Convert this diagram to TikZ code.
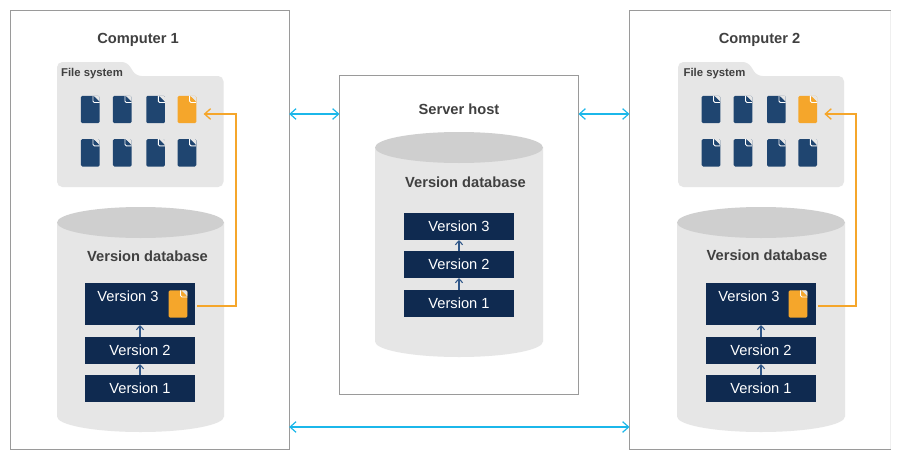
\documentclass[tikz,border=0pt]{standalone}
\usepackage{fontspec}
\setmainfont{Liberation Sans}
\usepackage{xcolor}
\usetikzlibrary{arrows.meta, positioning, calc}
\definecolor{hostline}{HTML}{9A9A9A}
\definecolor{fadeline}{HTML}{EFEFEF}
\definecolor{panelgrey}{HTML}{E6E6E6}
\definecolor{lidgrey}{HTML}{CFCFCF}
\definecolor{labelgrey}{HTML}{404040}
\definecolor{versionnavy}{HTML}{0F2A50}
\definecolor{stepblue}{HTML}{2F5688}
\definecolor{fileblue}{HTML}{1F4570}
\definecolor{fileorange}{HTML}{F5A62B}
\definecolor{linkcyan}{HTML}{1BB7EA}

\begin{document}
\begin{tikzpicture}[x=0.75pt, y=-0.75pt,
  hostbox/.style={draw=hostline, fill=white, line width=0.8pt, inner sep=0pt, outer sep=0pt},
  hostopen/.style={fill=white, inner sep=0pt, outer sep=0pt},
  hostedge/.style={draw=hostline, line width=0.8pt},
  hosttitle/.style={text=labelgrey, font=\bfseries\fontsize{11}{13}\selectfont, inner sep=0pt},
  fstitle/.style={text=labelgrey, font=\bfseries\fontsize{8.5}{10}\selectfont, inner sep=0pt},
  folder/.style={fill=panelgrey, rounded corners=4pt},
  version/.style={fill=versionnavy, text=white, minimum width=82.5pt, minimum height=20.25pt,
    inner sep=0pt, outer sep=0pt, font=\fontsize{11}{13}\selectfont},
  versiontall/.style={version, minimum height=31.5pt},
  versiontext/.style={text=white, inner sep=0pt, font=\fontsize{11}{13}\selectfont},
  fileicon/.style={fill=#1, minimum width=14pt, minimum height=20.5pt, inner sep=0pt, outer sep=0pt,
    rounded corners=1pt, path picture={
      \fill[panelgrey] ($(path picture bounding box.north east)+(-5pt,0.5pt)$) --
        ($(path picture bounding box.north east)+(0.5pt,0.5pt)$) --
        ($(path picture bounding box.north east)+(0.5pt,-5pt)$) -- cycle;
      \draw[white, line width=0.7pt] ($(path picture bounding box.north east)+(-5pt,0pt)$) --
        ($(path picture bounding box.north east)+(-5pt,-5pt)$) --
        ($(path picture bounding box.north east)+(0pt,-5pt)$);
      \fill[#1] ($(path picture bounding box.north east)+(-4.4pt,-0.2pt)$) --
        ($(path picture bounding box.north east)+(-0.2pt,-4.4pt)$) --
        ($(path picture bounding box.north east)+(-4.4pt,-4.4pt)$) -- cycle;}},
  link/.style={{Straight Barb[length=4.5pt,width=8pt]}-{Straight Barb[length=4.5pt,width=8pt]}, line width=0.9pt, draw=linkcyan},
  restore/.style={-{Straight Barb[length=4.5pt,width=8pt]}, line width=1pt, draw=fileorange},
  stepup/.style={-{Straight Barb[length=3pt,width=5.5pt]}, line width=0.8pt, draw=stepblue}]
  \useasboundingbox (0,0) rectangle (903,457);
  \node[hostbox, anchor=north west, minimum width=209pt, minimum height=329pt] (comp1) at (10.5,10.5) {};
  \node[hostbox, anchor=north west, minimum width=179.25pt, minimum height=239pt] (server) at (339.5,75.5) {};
  \node[hostopen, anchor=north west, minimum width=195.75pt, minimum height=329pt] (comp2) at (629.5,10.5) {};
  \draw[hostedge] (comp2.north east) -- (comp2.north west) -- (comp2.south west) -- (comp2.south east);
  \draw[fadeline] (comp2.north east) -- (comp2.south east);
  \node[hosttitle] (comp1title) at (138,39.5) {Computer 1};
  \node[hosttitle] (servertitle) at (459,109.5) {Server host};
  \node[hosttitle] (comp2title) at (759.5,39.5) {Computer 2};

  % computer 1 files
  \fill[folder] (57,62) -- (127,62) -- (136,76) -- (223.5,76) -- (223.5,187) -- (57,187) -- cycle;
  \node[fstitle] (fs1) at (92,73.5) {File system};
  \node[fileicon=fileblue] (a1) at (90.3,109.5) {};
  \node[fileicon=fileblue, right=10pt of a1] (a2) {};
  \node[fileicon=fileblue, right=11pt of a2] (a3) {};
  \node[fileicon=fileorange, right=9.5pt of a3] (a4) {};
  \node[fileicon=fileblue, below=12pt of a1] (a5) {};
  \node[fileicon=fileblue, right=10pt of a5] (a6) {};
  \node[fileicon=fileblue, right=11pt of a6] (a7) {};
  \node[fileicon=fileblue, right=9.5pt of a7] (a8) {};

  % computer 1 versions
  \fill[panelgrey] (57,222.5) -- (57,416.5) arc[start angle=180, end angle=0, x radius=83.5, y radius=15.5] -- (224,222.5) -- cycle;
  \fill[lidgrey] (140.5,222.5) ellipse[x radius=83.5, y radius=15.5];
  \node[hosttitle] (db1title) at (147.5,256.5) {Version database};
  \node[version] (a1v1) at (140,388.5) {Version 1};
  \node[version, above=8.25pt of a1v1] (a1v2) {Version 2};
  \node[versiontall, above=9pt of a1v2] (a1v3) {};
  \node[versiontext] (a1v3text) at (128,296) {Version 3};
  \node[fileicon=fileorange] (a1v3file) at (178,304) {};
  \draw[stepup] (a1v1) -- (a1v2);
  \draw[stepup] (a1v2) -- (a1v3);

  % server versions
  \fill[panelgrey] (375,147.5) -- (375,341.5) arc[start angle=180, end angle=0, x radius=84, y radius=15.5] -- (543,147.5) -- cycle;
  \fill[lidgrey] (459,147.5) ellipse[x radius=84, y radius=15.5];
  \node[hosttitle] (db2title) at (465.5,182.5) {Version database};
  \node[version] (b1v1) at (459,303.5) {Version 1};
  \node[version, above=9pt of b1v1] (b1v2) {Version 2};
  \node[version, above=8.25pt of b1v2] (b1v3) {Version 3};
  \draw[stepup] (b1v1) -- (b1v2);
  \draw[stepup] (b1v2) -- (b1v3);

  % computer 2 files
  \fill[folder] (678,62) -- (748,62) -- (757,76) -- (844,76) -- (844,187) -- (678,187) -- cycle;
  \node[fstitle] (fs2) at (714.5,73.5) {File system};
  \node[fileicon=fileblue] (c1) at (711,109.5) {};
  \node[fileicon=fileblue, right=10pt of c1] (c2) {};
  \node[fileicon=fileblue, right=11pt of c2] (c3) {};
  \node[fileicon=fileorange, right=9.5pt of c3] (c4) {};
  \node[fileicon=fileblue, below=12pt of c1] (c5) {};
  \node[fileicon=fileblue, right=10pt of c5] (c6) {};
  \node[fileicon=fileblue, right=11pt of c6] (c7) {};
  \node[fileicon=fileblue, right=9.5pt of c7] (c8) {};

  % computer 2 versions
  \fill[panelgrey] (677,222.5) -- (677,416.5) arc[start angle=180, end angle=0, x radius=84, y radius=15.5] -- (845,222.5) -- cycle;
  \fill[lidgrey] (761,222.5) ellipse[x radius=84, y radius=15.5];
  \node[hosttitle] (db3title) at (767,255.5) {Version database};
  \node[version] (c1v1) at (761,388.5) {Version 1};
  \node[version, above=8.25pt of c1v1] (c1v2) {Version 2};
  \node[versiontall, above=9pt of c1v2] (c1v3) {};
  \node[versiontext] (c1v3text) at (749,296) {Version 3};
  \node[fileicon=fileorange] (c1v3file) at (798,304) {};
  \draw[stepup] (c1v1) -- (c1v2);
  \draw[stepup] (c1v2) -- (c1v3);

  % links between hosts
  \coordinate (linktop) at (0,114);
  \coordinate (linkbottom) at (0,427);
  \draw[link] (comp1.east |- linktop) -- (server.west |- linktop);
  \draw[link] (server.east |- linktop) -- (comp2.west |- linktop);
  \draw[link] (comp1.east |- linkbottom) -- (comp2.west |- linkbottom);

  % restore paths
  \coordinate (turn1) at (236,0);
  \coordinate (turn2) at (856,0);
  \draw[restore] ([xshift=1.5pt, yshift=-1.5pt]a1v3.east) -| (turn1 |- linktop) -- ([xshift=5.5pt]a4.east |- linktop);
  \draw[restore] ([xshift=1.5pt, yshift=-1.5pt]c1v3.east) -| (turn2 |- linktop) -- ([xshift=5.5pt]c4.east |- linktop);
\end{tikzpicture}
\end{document}
